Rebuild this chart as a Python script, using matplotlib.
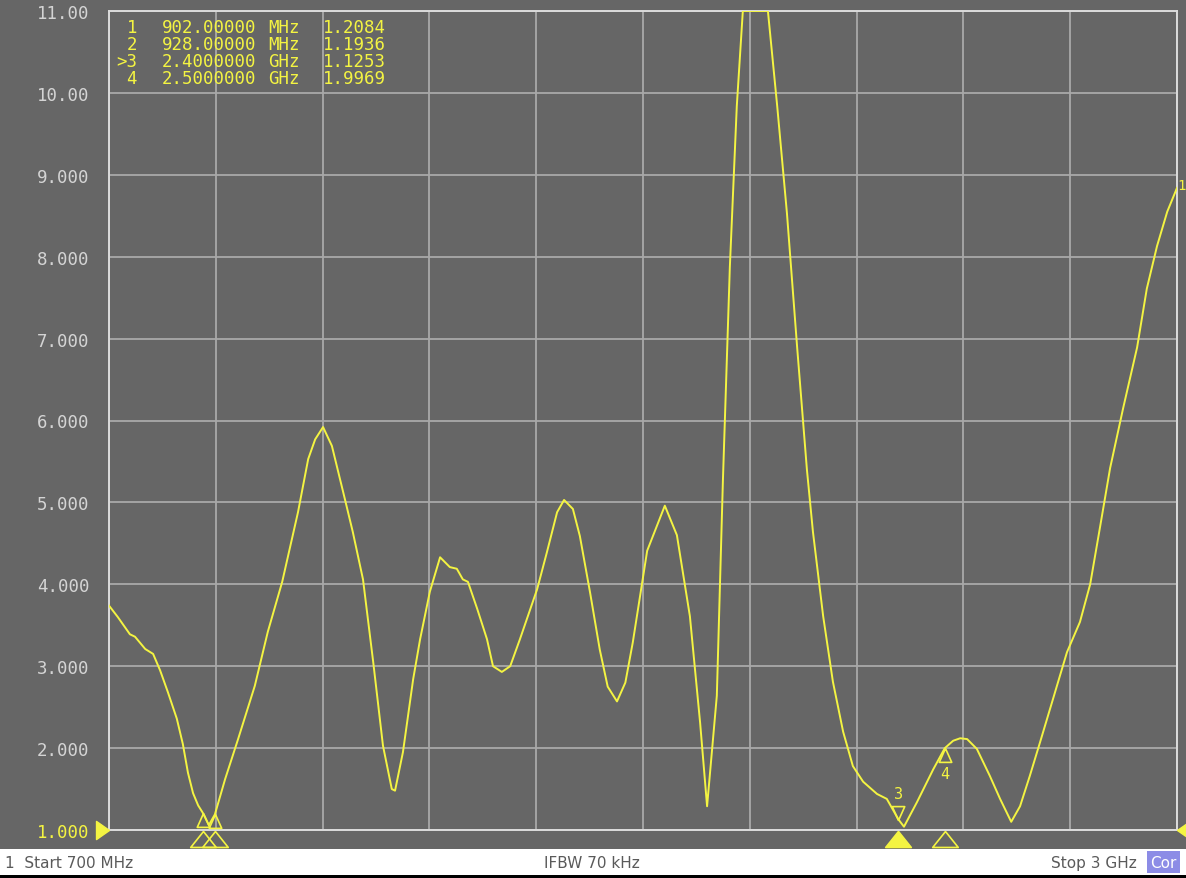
import matplotlib
matplotlib.use("Agg")
import matplotlib.pyplot as plt
from matplotlib.patches import Rectangle

# ---------------- data ----------------
freq_mhz = [700, 719, 745, 756, 778, 795, 810, 827, 846, 859, 870, 881, 892, 902, 915, 928,
            950, 978, 1014, 1042, 1073, 1107, 1129, 1144, 1161, 1180, 1208, 1225, 1247,
            1269, 1290, 1309, 1316, 1333, 1355, 1370, 1391, 1413, 1434, 1449, 1462, 1473,
            1493, 1514, 1527, 1546, 1564, 1585, 1622, 1643, 1665, 1680, 1699, 1714, 1736,
            1757, 1774, 1794, 1812, 1828, 1859, 1897, 1923, 1951, 1973, 1988, 2009, 2022, 2037,
            2052, 2065, 2119, 2139, 2160, 2182, 2203, 2216, 2238, 2259, 2281, 2302, 2324,
            2354, 2375, 2400, 2412, 2440, 2475, 2500, 2518, 2533, 2548, 2569, 2597, 2619,
            2643, 2662, 2683, 2705, 2733, 2763, 2791, 2813, 2834, 2856, 2884, 2914, 2935,
            2957, 2979, 3000]
vswr = [3.74, 3.60, 3.39, 3.36, 3.21, 3.15, 2.95, 2.68, 2.36, 2.05, 1.70, 1.45, 1.30, 1.21, 1.06, 1.19,
        1.62, 2.11, 2.76, 3.42, 4.03, 4.88, 5.53, 5.77, 5.92, 5.69, 5.04, 4.64, 4.06,
        3.05, 2.03, 1.50, 1.48, 1.95, 2.84, 3.33, 3.91, 4.33, 4.21, 4.19, 4.06, 4.03,
        3.70, 3.33, 3.00, 2.93, 3.00, 3.33, 3.94, 4.39, 4.88, 5.03, 4.92, 4.59, 3.90,
        3.20, 2.75, 2.57, 2.80, 3.29, 4.41, 4.96, 4.60, 3.61, 2.31, 1.29, 2.64, 5.25, 7.87,
        9.84, 11.0, 11.0, 9.84, 8.53, 6.89, 5.40, 4.64, 3.61, 2.81, 2.20, 1.78, 1.59,
        1.44, 1.38, 1.13, 1.04, 1.34, 1.74, 2.00, 2.09, 2.12, 2.11, 1.99, 1.66, 1.38,
        1.10, 1.29, 1.66, 2.07, 2.60, 3.17, 3.54, 4.00, 4.69, 5.42, 6.15, 6.89, 7.61,
        8.13, 8.55, 8.84]

marker_ids = ["1", "2", ">3", "4"]
marker_freq_mhz = [902, 928, 2400, 2500]
marker_freq_text = ["902.00000", "928.00000", "2.4000000", "2.5000000"]
marker_units = ["MHz", "MHz", "GHz", "GHz"]
marker_values = [1.2084, 1.1936, 1.1253, 1.9969]

y_ticks = [1, 2, 3, 4, 5, 6, 7, 8, 9, 10, 11]
y_tick_labels = ["1.000", "2.000", "3.000", "4.000", "5.000", "6.000", "7.000",
                 "8.000", "9.000", "10.00", "11.00"]
x_start, x_stop, x_div = 700, 3000, 10

# ---------------- style ----------------
W, H = 1186, 879
BG = "#666666"
GRID = "#a9a9a9"
FRAME = "#dcdcdc"
YEL = "#f4f442"
MONO = "DejaVu Sans Mono"

fig = plt.figure(figsize=(W / 100, H / 100), dpi=100, facecolor=BG)
L, R, T, B = 109, 1177, 12, 831
ax = fig.add_axes([L / W, (H - B) / H, (R - L) / W, (B - T) / H])
ax.set_facecolor(BG)

step = (x_stop - x_start) / x_div
ax.set_xticks([x_start + i * step for i in range(x_div + 1)])
ax.set_xlim(x_start, x_stop)
ax.set_ylim(1, 11)
ax.set_yticks(y_ticks)
ax.set_yticklabels(y_tick_labels, fontfamily=MONO, fontsize=12.5)
for lab in ax.get_yticklabels():
    lab.set_color(YEL if lab.get_text() == "1.000" else "#d4d4d4")
ax.tick_params(axis="y", length=0, pad=14)
ax.tick_params(axis="x", length=0, labelbottom=False)
ax.grid(True, color=GRID, lw=1.3)
for s in ax.spines.values():
    s.set_color(FRAME)
    s.set_linewidth(1.4)

ax.plot(freq_mhz, vswr, color=YEL, lw=1.4, zorder=5)

# on-trace marker triangles
down_tri = [(0, 0), (-0.45, 1), (0.45, 1), (0, 0)]
up_tri = [(0, 0), (-0.45, -1), (0.45, -1), (0, 0)]
for mid, f, v in zip(marker_ids, marker_freq_mhz, marker_values):
    num = mid.replace(">", "")
    if num == "3":
        ax.plot([f], [v], marker=down_tri, ms=20, mfc="none", mec=YEL, mew=1.2, zorder=6)
        ax.annotate(num, (f, v), xytext=(0, 19), textcoords="offset points",
                    ha="center", va="center", color=YEL, fontsize=11, fontfamily=MONO)
    else:
        ax.plot([f], [v], marker=up_tri, ms=20, mfc="none", mec=YEL, mew=1.2, zorder=6,
                clip_on=False)
        if num == "4":
            ax.annotate(num, (f, v), xytext=(0, -18), textcoords="offset points",
                        ha="center", va="center", color=YEL, fontsize=11, fontfamily=MONO)

# bottom marker position indicators
bot_tri = [(0, 0), (-0.8, -1), (0.8, -1), (0, 0)]
xt = ax.get_xaxis_transform()
for mid, f in zip(marker_ids, marker_freq_mhz):
    active = mid.startswith(">")
    ax.plot([f], [-0.001], marker=bot_tri, ms=23, transform=xt, clip_on=False,
            mfc=YEL if active else "none", mec=YEL, mew=1.2, zorder=7)

# reference-level triangles
ax.plot([0], [0], marker=[(0, 0), (-1, 0.7), (-1, -0.7), (0, 0)], ms=18.7,
        transform=ax.transAxes, clip_on=False, color=YEL, mec=YEL, zorder=7)
ax.plot([1], [0], marker=[(0, 0), (1, 0.7), (1, -0.7), (0, 0)], ms=18.7,
        transform=ax.transAxes, clip_on=False, color=YEL, mec=YEL, zorder=7)

# trace label at right edge
fig.text(1177 / W, 1 - 186 / H, "1", color=YEL, fontsize=10, fontfamily=MONO,
         ha="left", va="center")

# marker table
rows_y = [28, 45, 62, 79]
for i in range(len(marker_ids)):
    yy = 1 - rows_y[i] / H
    fig.text(137 / W, yy, marker_ids[i], color=YEL, fontsize=12.5, fontfamily=MONO,
             ha="right", va="center")
    fig.text(162 / W, yy, marker_freq_text[i], color=YEL, fontsize=12.5, fontfamily=MONO,
             ha="left", va="center")
    fig.text(268 / W, yy, marker_units[i], color=YEL, fontsize=12.5, fontfamily=MONO,
             ha="left", va="center")
    fig.text(323 / W, yy, f"{marker_values[i]:.4f}", color=YEL, fontsize=12.5,
             fontfamily=MONO, ha="left", va="center")

# bottom status strip
fig.patches.append(Rectangle((0, 3 / H), 1, 26 / H, transform=fig.transFigure,
                             facecolor="white", edgecolor="none", zorder=0))
fig.patches.append(Rectangle((0, 0), 1, 3 / H, transform=fig.transFigure,
                             facecolor="black", edgecolor="none", zorder=0))
fig.patches.append(Rectangle((1147 / W, 5 / H), 33 / W, 22 / H, transform=fig.transFigure,
                             facecolor="#8c8ce6", edgecolor="none", zorder=1))
ty = 15 / H
fig.text(5 / W, ty, "1  Start 700 MHz", color="#5a5a5a", fontsize=11, ha="left", va="center")
fig.text(592 / W, ty, "IFBW 70 kHz", color="#5a5a5a", fontsize=11, ha="center", va="center")
fig.text(1137 / W, ty, "Stop 3 GHz", color="#5a5a5a", fontsize=11, ha="right", va="center")
fig.text(1163 / W, ty, "Cor", color="white", fontsize=11, ha="center", va="center")

fig.savefig("out.png", dpi=100, facecolor=BG)
